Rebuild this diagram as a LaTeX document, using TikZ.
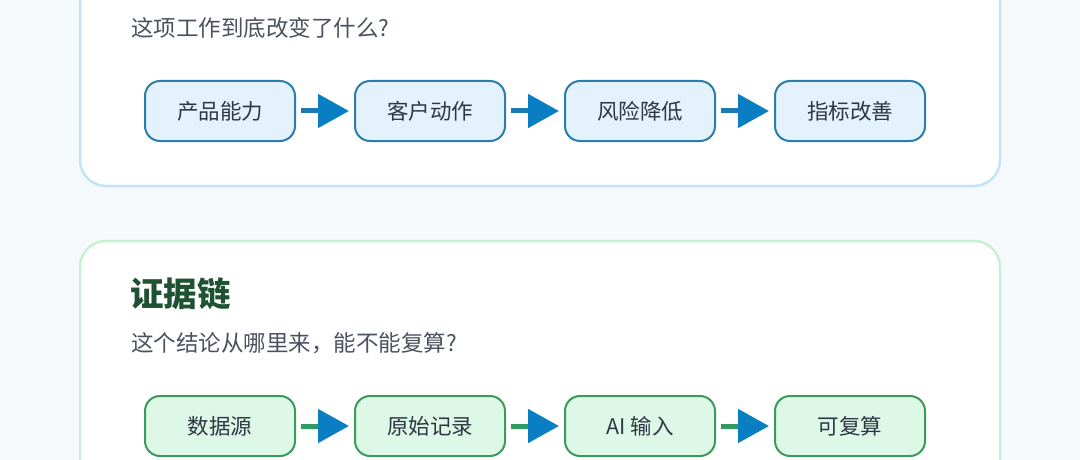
\documentclass[tikz,border=0pt]{standalone}
\usepackage{fontspec}
\setmainfont{Noto Sans CJK SC}
\usepackage{tikz}
\usetikzlibrary{arrows.meta,positioning}
\definecolor{pagebg}{HTML}{F6F9FC}
\definecolor{cardblue}{HTML}{C3E4F2}
\definecolor{cardgreen}{HTML}{C8F0D2}
\definecolor{boxbluefill}{HTML}{E3F2FC}
\definecolor{boxblueline}{HTML}{2C7DAA}
\definecolor{boxgreenfill}{HTML}{DDF8E6}
\definecolor{boxgreenline}{HTML}{3C9A5C}
\definecolor{headblue}{HTML}{0A7EC2}
\definecolor{shaftblue}{HTML}{1C7AB0}
\definecolor{shaftgreen}{HTML}{2F9B5E}
\definecolor{titlegreen}{HTML}{1E5233}
\definecolor{bodytext}{HTML}{2F3744}
\definecolor{subtext}{HTML}{4A5260}

\begin{document}
\begin{tikzpicture}[x=1pt,y=-1pt,
  card/.style={line width=2.5pt, fill=white, rounded corners=26pt},
  stepbox/.style={rectangle, rounded corners=15pt, line width=2pt,
    minimum width=150pt, minimum height=60pt, inner sep=0pt,
    text=bodytext, font=\fontsize{21.5}{25}\selectfont},
  bluebox/.style={stepbox, draw=boxblueline, fill=boxbluefill},
  greenbox/.style={stepbox, draw=boxgreenline, fill=boxgreenfill},
  flow/.style={line width=5pt, shorten <=5pt, shorten >=5pt,
    -{Triangle[length=31pt,width=33pt,color=headblue,fill=headblue]}},
  sub/.style={anchor=west, text=subtext, inner sep=0pt, font=\fontsize{22.5}{26}\selectfont}]
\fill[pagebg] (0,0) rectangle (1080,460);
\useasboundingbox (0,0) rectangle (1080,460);
\clip (0,0) rectangle (1080,460);

\draw[card, draw=cardblue] (80,-120) rectangle (1000,186);
\node[sub] (q1) at (131,28) {这项工作到底改变了什么?};
\node[bluebox] (b1) at (220,111) {产品能力};
\node[bluebox, right=58pt of b1] (b2) {客户动作};
\node[bluebox, right=58pt of b2] (b3) {风险降低};
\node[bluebox, right=58pt of b3] (b4) {指标改善};
\draw[flow, shaftblue] (b1) -- (b2);
\draw[flow, shaftblue] (b2) -- (b3);
\draw[flow, shaftblue] (b3) -- (b4);

\draw[card, draw=cardgreen] (80,241) rectangle (1000,600);
\node[anchor=west, inner sep=0pt, text=titlegreen, font=\fontsize{33.5}{38}\selectfont\bfseries] (t2) at (130,294) {证据链};
\node[sub] (q2) at (131,343) {这个结论从哪里来，能不能复算?};
\node[greenbox] (g1) at (220,426) {数据源};
\node[greenbox, right=58pt of g1] (g2) {原始记录};
\node[greenbox, right=58pt of g2] (g3) {AI 输入};
\node[greenbox, right=58pt of g3] (g4) {可复算};
\draw[flow, shaftgreen] (g1) -- (g2);
\draw[flow, shaftgreen] (g2) -- (g3);
\draw[flow, shaftgreen] (g3) -- (g4);
\end{tikzpicture}
\end{document}
